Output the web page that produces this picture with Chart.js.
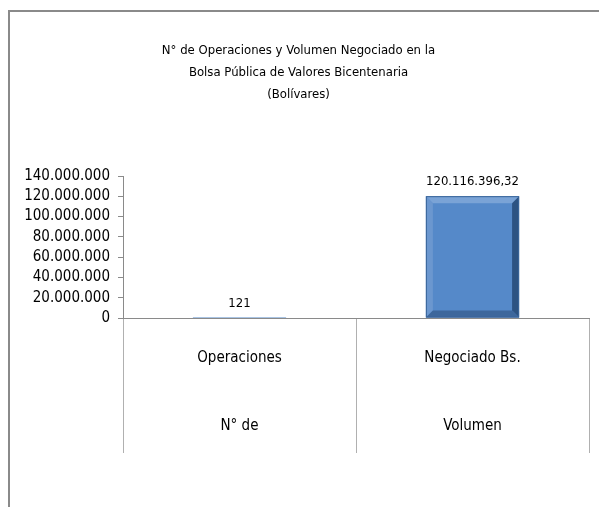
<!DOCTYPE html>
<html>
<head>
<meta charset="utf-8">
<script src="https://cdn.jsdelivr.net/npm/chart.js@4.4.1/dist/chart.umd.min.js"></script>
<style>
  body { margin: 0; background: #fff; }
  #frame {
    position: absolute; left: 8px; top: 10px; width: 600px; height: 510px;
    border-left: 2px solid #8a8a8a; border-top: 2px solid #8a8a8a;
  }
  canvas { position: absolute; left: 0; top: 0; }
</style>
</head>
<body>
<div id="frame"></div>
<canvas id="grafico" width="599" height="507"></canvas>
<script>
// datos del gráfico
const categorias = [["Operaciones", "N° de"], ["Negociado Bs.", "Volumen"]];
const valores = [121, 120116396.32];
const titulo = ["N° de Operaciones y Volumen Negociado en la", "Bolsa Pública de Valores Bicentenaria", "(Bolívares)"];
const yMax = 140000000;
const yPaso = 20000000;

const fuente = "'Liberation Sans Narrow', 'DejaVu Sans Condensed', sans-serif";

// formato venezolano: punto de miles, coma decimal
function formato(v) {
    const partes = v.toFixed(2).split('.');
    const entero = partes[0].replace(/\B(?=(\d{3})+(?!\d))/g, '.');
    return partes[1] === '00' ? entero : entero + ',' + partes[1];
}

// etiquetas encima de cada barra
const etiquetas = {
    id: 'etiquetas',
    afterDatasetsDraw(chart) {
        const ctx = chart.ctx;
        const meta = chart.getDatasetMeta(0);
        ctx.save();
        ctx.font = '13px ' + fuente;
        ctx.fillStyle = '#000';
        ctx.textAlign = 'center';
        ctx.textBaseline = 'bottom';
        meta.data.forEach((bar, i) => {
            ctx.fillText(formato(valores[i]), bar.x, bar.y - 8);
        });
        ctx.restore();
    }
};

// efecto biselado de la barra (estilo Excel)
const bisel = {
    id: 'bisel',
    afterDatasetsDraw(chart) {
        const ctx = chart.ctx;
        chart.getDatasetMeta(0).data.forEach(bar => {
            const l = bar.x - bar.width / 2, r = bar.x + bar.width / 2;
            const t = bar.y, b = bar.base;
            if (b - t < 20) return;
            const d = 7;
            const cara = (pts, color) => {
                ctx.beginPath();
                ctx.moveTo(pts[0][0], pts[0][1]);
                pts.slice(1).forEach(p => ctx.lineTo(p[0], p[1]));
                ctx.closePath();
                ctx.fillStyle = color;
                ctx.fill();
            };
            ctx.save();
            cara([[l, t], [r, t], [r - d, t + d], [l + d, t + d]], '#7aa3d6');
            cara([[l, t], [l + d, t + d], [l + d, b - d], [l, b]], '#6b97cf');
            cara([[r, t], [r, b], [r - d, b - d], [r - d, t + d]], '#2d5382');
            cara([[l, b], [l + d, b - d], [r - d, b - d], [r, b]], '#3d679c');
            ctx.strokeStyle = '#3a659a';
            ctx.lineWidth = 1;
            ctx.strokeRect(l + 0.5, t + 0.5, r - l - 1, b - t - 1);
            ctx.restore();
        });
    }
};

const ctx = document.getElementById('grafico').getContext('2d');
const chart = new Chart(ctx, {
    type: 'bar',
    data: {
        labels: categorias,
        datasets: [{
            data: valores,
            backgroundColor: '#5589c9',
            borderWidth: 0,
            barPercentage: 0.4,
            categoryPercentage: 1
        }]
    },
    plugins: [bisel, etiquetas],
    options: {
        responsive: false,
        animation: false,
        layout: { padding: { left: 8, right: 10, top: 0, bottom: 54 } },
        plugins: {
            legend: { display: false },
            tooltip: { enabled: false },
            title: {
                display: true,
                text: titulo,
                color: '#000',
                font: { family: fuente, size: 13, weight: 'normal', lineHeight: '22px' },
                padding: { top: 40, bottom: 70 }
            }
        },
        scales: {
            x: {
                border: { color: '#8a8a8a' },
                grid: {
                    display: true,
                    offset: true,
                    drawOnChartArea: false,
                    drawTicks: true,
                    tickLength: 135,
                    color: '#b0b0b0'
                },
                ticks: {
                    color: '#000',
                    padding: -129,
                    font: { family: fuente, size: 15, lineHeight: '68px' }
                },
                afterFit(scale) { scale.height = 135; }
            },
            y: {
                min: 0,
                max: yMax,
                border: { color: '#8a8a8a' },
                grid: {
                    drawOnChartArea: false,
                    drawTicks: true,
                    tickLength: 5,
                    color: '#8a8a8a'
                },
                ticks: {
                    stepSize: yPaso,
                    color: '#000',
                    padding: 8,
                    font: { family: fuente, size: 15, lineHeight: 1 },
                    callback: v => formato(v)
                },
                afterFit(scale) { scale.width = 115; }
            }
        }
    }
});
</script>
</body>
</html>
